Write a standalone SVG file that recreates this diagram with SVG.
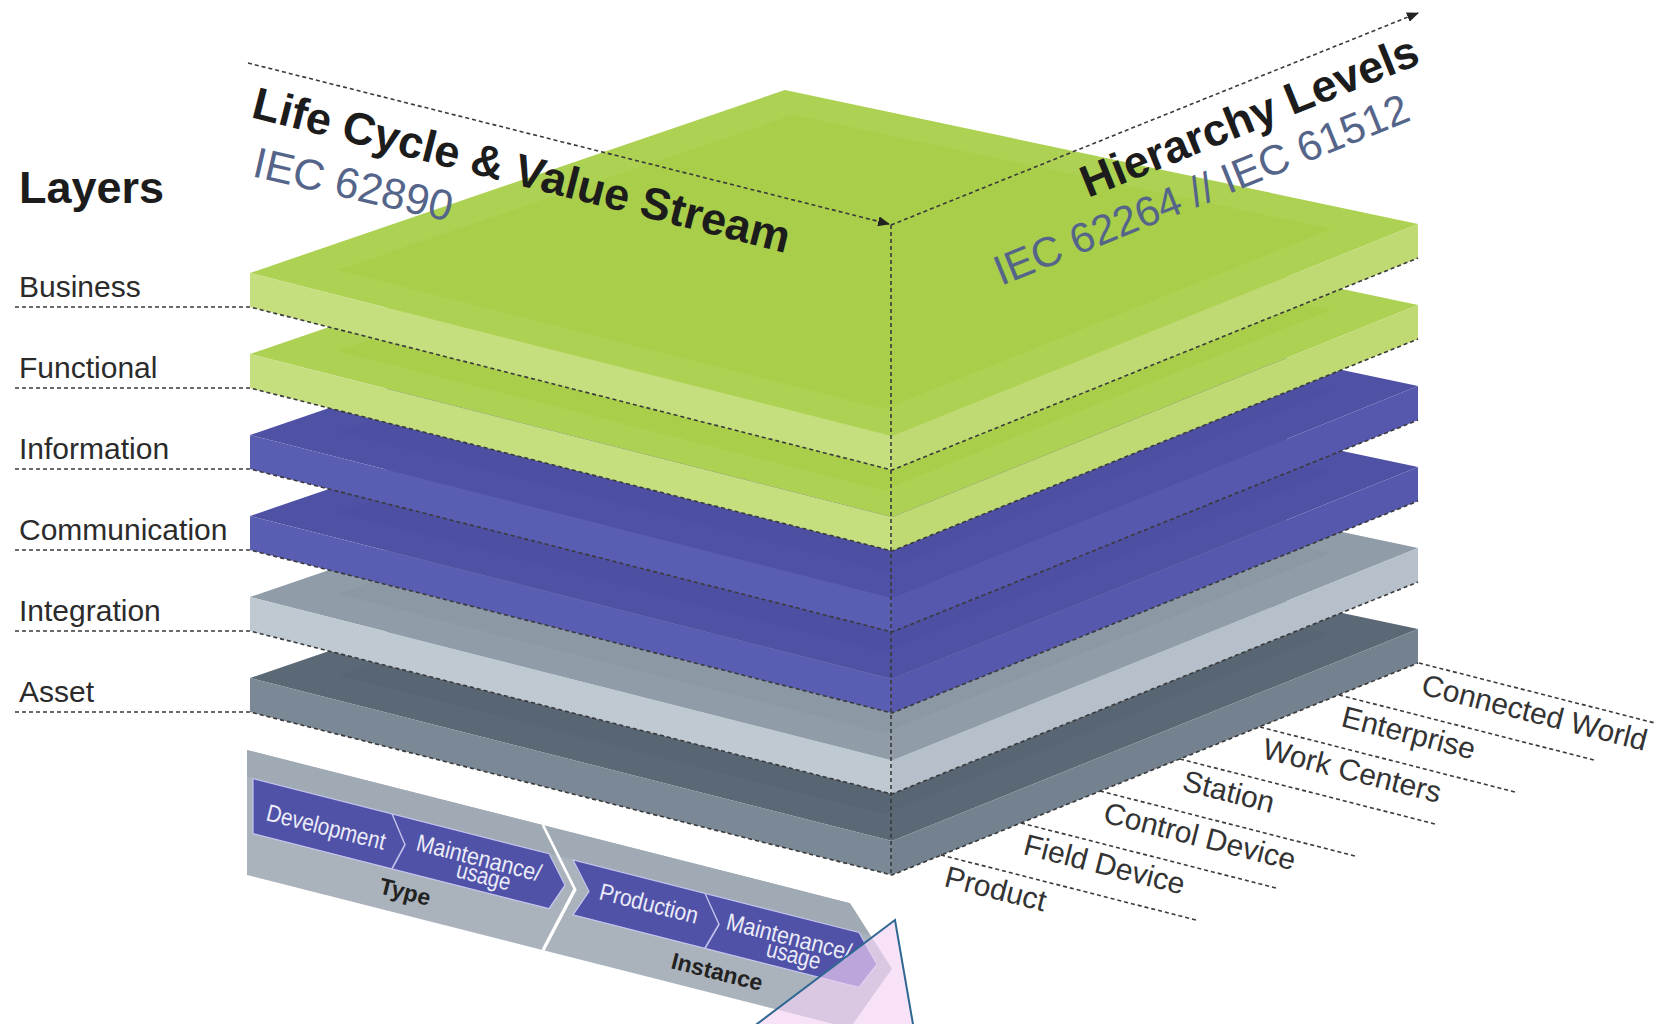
<svg xmlns="http://www.w3.org/2000/svg" width="1661" height="1024" viewBox="0 0 1661 1024">
<defs>
<style>
text{font-family:"Liberation Sans",Arial,sans-serif}
.lbl{font-size:30px;fill:#2b2b2b}
.hl{font-size:30px;fill:#333}
.ttl{font-size:45px;font-weight:bold;fill:#1c1c1c}
.iec{font-size:43px;fill:#55658a}
.dot{fill:none;stroke:#3a3a3a;stroke-width:1.6;stroke-dasharray:4 3}
.gt{fill:#adD152}.gi{fill:#a8ce4a}.gl{fill:#c6df7e}.gr{fill:#bfda72}
.bt{fill:#4f51a5}.bi{fill:#4d4fa3}.bl{fill:#5a5eb2}.br{fill:#5558ad}
.it{fill:#909ca8}.ii{fill:#8c98a4}.il{fill:#bfc9d2}.ir{fill:#b6c0ca}
.at{fill:#5b6976}.ai{fill:#586572}.al{fill:#7b8895}.ar{fill:#74818e}
.chev{fill:#5052a8;stroke:#c5c5ee;stroke-width:1.2}
.sep{fill:none;stroke:#c5c5ee;stroke-width:1.5}
.bw{font-size:24px;fill:#ececf8}
.bb{font-size:23px;font-weight:bold;fill:#222}
</style>
<marker id="arr" markerWidth="12" markerHeight="10" refX="11" refY="5" orient="auto" markerUnits="userSpaceOnUse">
<path d="M0,0 L12,5 L0,10 z" fill="#222"/>
</marker>
</defs>
<rect width="1661" height="1024" fill="#ffffff"/>

<!-- Banner (life cycle) -->
<g id="lifecycle-banner">
<g transform="translate(247,750) skewY(14.25)">
<polygon points="0,0 603,0 645,55 603,125 0,125" fill="#aab3bc"/>
<polygon points="0,0 603,0 623,27 0,27" fill="#a0aab4"/>
<polyline points="296,0 328,56 296,125" fill="none" stroke="#ffffff" stroke-width="3"/>
<polygon class="chev" points="6,27 302,27 318,54.5 302,82 6,82"/>
<polyline class="sep" points="145,27 158,54.5 145,82"/>
<polygon class="chev" points="326,27 612,27 630,54.5 612,82 326,82 342,54.5"/>
<polyline class="sep" points="458,27 472,54.5 458,82"/>
</g>
<text class="bw" x="265" y="820" transform="rotate(14.25 265 820)" textLength="122" lengthAdjust="spacingAndGlyphs">Development</text>
<text class="bw" x="415" y="850" transform="rotate(14.25 415 850)" textLength="128" lengthAdjust="spacingAndGlyphs">Maintenance/</text>
<text class="bw" x="455" y="877" transform="rotate(14.25 455 877)" textLength="55" lengthAdjust="spacingAndGlyphs">usage</text>
<text class="bb" x="378" y="893" transform="rotate(14.25 378 893)">Type</text>
<text class="bw" x="598" y="899" transform="rotate(14.25 598 899)" textLength="101" lengthAdjust="spacingAndGlyphs">Production</text>
<text class="bw" x="725" y="929" transform="rotate(14.25 725 929)" textLength="128" lengthAdjust="spacingAndGlyphs">Maintenance/</text>
<text class="bw" x="765" y="956" transform="rotate(14.25 765 956)" textLength="55" lengthAdjust="spacingAndGlyphs">usage</text>
<text class="bb" x="670" y="968" transform="rotate(14.25 670 968)">Instance</text>
</g>

<!-- Layers, drawn bottom to top -->
<g id="layer-asset" transform="translate(0,405)">
<polygon class="at" points="250,273 785,90 1418,224 892,436"/>
<polygon class="ai" points="338,270 793,115 1331,229 884,409"/>
<polygon class="al" points="250,273 892,436 892,470 250,307"/>
<polygon class="ar" points="892,436 1418,224 1418,258 892,470"/>
</g>
<g id="layer-integration" transform="translate(0,324)">
<polygon class="it" points="250,273 785,90 1418,224 892,436"/>
<polygon class="ii" points="338,270 793,115 1331,229 884,409"/>
<polygon class="il" points="250,273 892,436 892,470 250,307"/>
<polygon class="ir" points="892,436 1418,224 1418,258 892,470"/>
</g>
<g id="layer-communication" transform="translate(0,243)">
<polygon class="bt" points="250,273 785,90 1418,224 892,436"/>
<polygon class="bi" points="338,270 793,115 1331,229 884,409"/>
<polygon class="bl" points="250,273 892,436 892,470 250,307"/>
<polygon class="br" points="892,436 1418,224 1418,258 892,470"/>
</g>
<g id="layer-information" transform="translate(0,162)">
<polygon class="bt" points="250,273 785,90 1418,224 892,436"/>
<polygon class="bi" points="338,270 793,115 1331,229 884,409"/>
<polygon class="bl" points="250,273 892,436 892,470 250,307"/>
<polygon class="br" points="892,436 1418,224 1418,258 892,470"/>
</g>
<g id="layer-functional" transform="translate(0,81)">
<polygon class="gt" points="250,273 785,90 1418,224 892,436"/>
<polygon class="gi" points="338,270 793,115 1331,229 884,409"/>
<polygon class="gl" points="250,273 892,436 892,470 250,307"/>
<polygon class="gr" points="892,436 1418,224 1418,258 892,470"/>
</g>
<g id="layer-business">
<polygon class="gt" points="250,273 785,90 1418,224 892,436"/>
<polygon class="gi" points="338,270 793,115 1331,229 884,409"/>
<polygon class="gl" points="250,273 892,436 892,470 250,307"/>
<polygon class="gr" points="892,436 1418,224 1418,258 892,470"/>
</g>

<!-- Connectors / dotted guide lines -->
<g id="connectors">
<polyline class="dot" points="15,307 250,307 892,470 1418,258"/>
<polyline class="dot" points="15,388 250,388 892,551 1418,339"/>
<polyline class="dot" points="15,469 250,469 892,632 1418,420"/>
<polyline class="dot" points="15,550 250,550 892,713 1418,501"/>
<polyline class="dot" points="15,631 250,631 892,794 1418,582"/>
<polyline class="dot" points="15,712 250,712 892,875 1418,663"/>
<line class="dot" x1="891" y1="225" x2="891" y2="876"/>
<line class="dot" x1="248" y1="63" x2="889" y2="224" marker-end="url(#arr)"/>
<line class="dot" x1="891" y1="225" x2="1418" y2="13" marker-end="url(#arr)"/>
<line class="dot" x1="941" y1="855" x2="1196" y2="920"/>
<line class="dot" x1="1021" y1="823" x2="1276" y2="888"/>
<line class="dot" x1="1100" y1="791" x2="1355" y2="856"/>
<line class="dot" x1="1180" y1="759" x2="1435" y2="824"/>
<line class="dot" x1="1260" y1="727" x2="1515" y2="792"/>
<line class="dot" x1="1339" y1="695" x2="1594" y2="760"/>
<line class="dot" x1="1419" y1="663" x2="1655" y2="723"/>
</g>

<!-- Layer labels -->
<g id="layer-labels">
<text x="19" y="203" style="font-size:45px;font-weight:bold;fill:#1c1c1c">Layers</text>
<text class="lbl" x="19" y="297">Business</text>
<text class="lbl" x="19" y="378">Functional</text>
<text class="lbl" x="19" y="459">Information</text>
<text class="lbl" x="19" y="540">Communication</text>
<text class="lbl" x="19" y="621">Integration</text>
<text class="lbl" x="19" y="702">Asset</text>
</g>

<!-- Axis titles -->
<g id="axis-lifecycle">
<text class="ttl" x="250" y="117" transform="rotate(14.25 250 117)">Life Cycle &amp; Value Stream</text>
<text class="iec" x="251" y="176" transform="rotate(13 251 176)">IEC 62890</text>
</g>
<g id="axis-hierarchy">
<text class="ttl" x="1088" y="198" transform="rotate(-22 1088 198)">Hierarchy Levels</text>
<text class="iec" x="1001" y="286" transform="rotate(-22 1001 286)" style="font-size:42px">IEC 62264 // IEC 61512</text>
</g>

<!-- Hierarchy level labels -->
<g id="hierarchy-labels">
<text class="hl" x="943" y="886" transform="rotate(14.25 943 886)">Product</text>
<text class="hl" x="1022" y="854" transform="rotate(14.25 1022 854)">Field Device</text>
<text class="hl" x="1102" y="822" transform="rotate(14.25 1102 822)">Control Device</text>
<text class="hl" x="1181" y="790" transform="rotate(14.25 1181 790)">Station</text>
<text class="hl" x="1261" y="758" transform="rotate(14.25 1261 758)">Work Centers</text>
<text class="hl" x="1340" y="726" transform="rotate(14.25 1340 726)">Enterprise</text>
<text class="hl" x="1420" y="694" transform="rotate(14.25 1420 694)">Connected World</text>
</g>

<!-- Pink highlight triangle -->
<g id="highlight">
<polygon points="895,920 749,1030 914,1030" fill="#f5d3f5" fill-opacity="0.65" stroke="#2e6791" stroke-width="2"/>
</g>
</svg>
